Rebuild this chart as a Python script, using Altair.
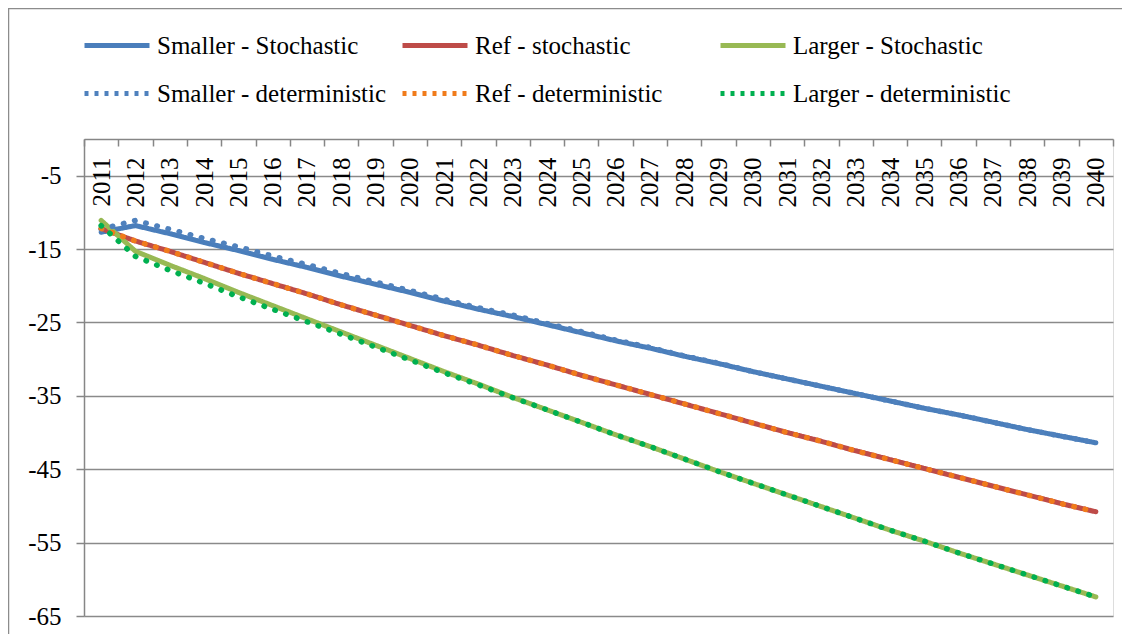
import altair as alt
import pandas as pd

years = [str(y) for y in range(2011, 2041)]

series_names = [
    "Smaller - Stochastic", "Ref - stochastic", "Larger - Stochastic",
    "Smaller - deterministic", "Ref - deterministic", "Larger - deterministic",
]
series_colors = ["#4A7EBB", "#BE4B48", "#98B954", "#4F81BD", "#F07B1B", "#00B050"]

smaller_stoch = [-12.7, -11.8, -12.9, -14.1, -15.2, -16.4, -17.5, -18.7, -19.8, -20.9,
                 -22.1, -23.2, -24.2, -25.3, -26.4, -27.5, -28.5, -29.6, -30.6, -31.7,
                 -32.7, -33.7, -34.7, -35.7, -36.7, -37.6, -38.6, -39.6, -40.5, -41.4]
ref_stoch = [-12.2, -13.9, -15.3, -16.8, -18.3, -19.7, -21.1, -22.6, -24.0, -25.4,
             -26.8, -28.1, -29.5, -30.8, -32.2, -33.5, -34.8, -36.1, -37.4, -38.7,
             -40.0, -41.2, -42.5, -43.7, -44.9, -46.1, -47.3, -48.5, -49.7, -50.8]
larger_stoch = [-11.1, -15.3, -17.2, -19.0, -20.9, -22.7, -24.5, -26.3, -28.1, -29.9,
                -31.7, -33.4, -35.2, -36.9, -38.6, -40.3, -41.9, -43.6, -45.3, -46.9,
                -48.5, -50.1, -51.7, -53.3, -54.8, -56.4, -57.9, -59.4, -60.9, -62.4]
smaller_det = [-12.3, -11.1, -12.3, -13.55, -14.7, -15.95, -17.1, -18.35, -19.5, -20.65,
               -21.85, -23.0, -24.0, -25.15, -26.25, -27.4, -28.4, -29.55, -30.55, -31.7,
               -32.7, -33.7, -34.7, -35.7, -36.7, -37.6, -38.6, -39.6, -40.5, -41.4]
ref_det = [-12.2, -13.9, -15.3, -16.8, -18.3, -19.7, -21.1, -22.6, -24.0, -25.4,
           -26.8, -28.1, -29.5, -30.8, -32.2, -33.5, -34.8, -36.1, -37.4, -38.7,
           -40.0, -41.2, -42.5, -43.7, -44.9, -46.1, -47.3, -48.5, -49.7, -50.8]
larger_det = [-11.8, -16.0, -17.9, -19.65, -21.5, -23.2, -24.9, -26.6, -28.35, -30.1,
              -31.85, -33.5, -35.25, -36.9, -38.6, -40.3, -41.9, -43.6, -45.3, -46.9,
              -48.5, -50.1, -51.7, -53.3, -54.8, -56.4, -57.9, -59.4, -60.9, -62.4]

y_ticks = [-65, -55, -45, -35, -25, -15, -5]

all_vals = [smaller_stoch, ref_stoch, larger_stoch, smaller_det, ref_det, larger_det]
rows = []
for idx, (name, vals) in enumerate(zip(series_names, all_vals)):
    kind = "stoch" if idx < 3 else "det"
    for yr, v in zip(years, vals):
        rows.append({"year": yr, "series": name, "value": v, "kind": kind})
df = pd.DataFrame(rows)

W, H = 1029, 477
FONT = "Liberation Serif, Times New Roman, serif"

x_enc = alt.X(
    "year:O",
    bandPosition=0.5,
    scale=alt.Scale(type="band", paddingInner=0, paddingOuter=0, domain=years),
    axis=alt.Axis(
        title=None, orient="bottom", offset=-H, labelAngle=-90, labelPadding=11,
        tickSize=7, tickBand="extent", tickColor="#868686", tickWidth=1.5,
        domainColor="#868686", domainWidth=1.5, labelFont=FONT, labelFontSize=25,
        labelColor="black", labelOverlap=False, grid=False,
    ),
)
y_enc = alt.Y(
    "value:Q",
    scale=alt.Scale(domain=[-65, 0], nice=False, zero=False),
    axis=alt.Axis(
        title=None, values=y_ticks, grid=True, gridColor="#8a8a8a", gridWidth=1.5,
        tickSize=8, tickColor="#868686", tickWidth=1.5, domainColor="#868686",
        domainWidth=1.5, labelFont=FONT, labelFontSize=25, labelColor="black",
        labelPadding=15, labelExpr="replace(datum.label, '\u2212', '-')",
    ),
)

color_scale = alt.Scale(domain=series_names, range=series_colors)
dash_scale = alt.Scale(
    domain=series_names,
    range=[[1, 0], [1, 0], [1, 0], [4, 6], [4, 6], [4, 6]],
)
legend = alt.Legend(
    title=None, orient="none", direction="horizontal", legendX=-2, legendY=-128.5,
    columns=3, symbolType="stroke", symbolSize=4225, symbolStrokeWidth=5,
    labelFont=FONT, labelFontSize=25, labelColor="black", labelOffset=5,
    rowPadding=-3, columnPadding=5, gridAlign="all", padding=0, labelLimit=400,
)

base = alt.Chart(df)

solid = base.transform_filter(alt.datum.kind == "stoch").mark_line(
    strokeWidth=5, strokeCap="round", strokeJoin="round"
).encode(
    x=x_enc,
    y=y_enc,
    color=alt.Color("series:N", scale=color_scale, legend=legend, sort=series_names),
    strokeDash=alt.StrokeDash("series:N", scale=dash_scale, legend=legend, sort=series_names),
)

dotted = base.transform_filter(alt.datum.kind == "det").mark_line(
    strokeWidth=5.5, strokeCap="round", strokeDash=[0.5, 11]
).encode(
    x=x_enc,
    y=y_enc,
    color=alt.Color("series:N", scale=color_scale, legend=legend, sort=series_names),
)

border = alt.Chart(pd.DataFrame({"a": [0]})).mark_rect(
    fillOpacity=0, stroke="#8c8c8c", strokeWidth=1.5
).encode(
    x=alt.value(-75.5), x2=alt.value(1100), y=alt.value(-130.5), y2=alt.value(540)
)

chart = alt.layer(border, solid, dotted).properties(
    width=W, height=H,
    autosize=alt.AutoSizeParams(type="none"),
    padding={"left": 76, "top": 131, "right": 9, "bottom": 18},
).configure_view(stroke=None).configure_legend(rowPadding=-3).configure(background="white")

chart.save("out.html", embed_options={"renderer": "svg", "actions": False})
